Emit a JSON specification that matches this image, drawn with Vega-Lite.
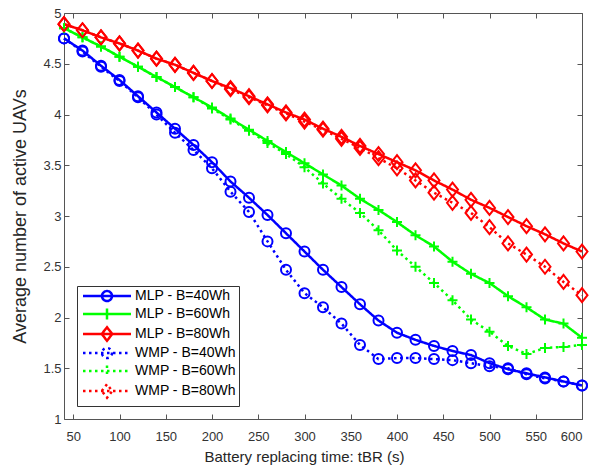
{
  "$schema": "https://vega.github.io/schema/vega-lite/v6.json",
  "width": 518,
  "height": 406,
  "autosize": {"type": "none"},
  "padding": {"left": 64, "top": 13, "right": 15, "bottom": 55},
  "background": "white",
  "config": {"view": {"stroke": null}, "font": "Liberation Sans"},
  "datasets": {
    "d": [
      {"t":40,"series":"MLP - B=40Wh","v":4.75},{"t":60,"series":"MLP - B=40Wh","v":4.63},{"t":80,"series":"MLP - B=40Wh","v":4.48},{"t":100,"series":"MLP - B=40Wh","v":4.34},{"t":120,"series":"MLP - B=40Wh","v":4.18},{"t":140,"series":"MLP - B=40Wh","v":4.02},{"t":160,"series":"MLP - B=40Wh","v":3.86},{"t":180,"series":"MLP - B=40Wh","v":3.70},{"t":200,"series":"MLP - B=40Wh","v":3.53},{"t":220,"series":"MLP - B=40Wh","v":3.34},{"t":240,"series":"MLP - B=40Wh","v":3.18},{"t":260,"series":"MLP - B=40Wh","v":3.01},{"t":280,"series":"MLP - B=40Wh","v":2.83},{"t":300,"series":"MLP - B=40Wh","v":2.65},{"t":320,"series":"MLP - B=40Wh","v":2.47},{"t":340,"series":"MLP - B=40Wh","v":2.30},{"t":360,"series":"MLP - B=40Wh","v":2.13},{"t":380,"series":"MLP - B=40Wh","v":1.97},{"t":400,"series":"MLP - B=40Wh","v":1.85},{"t":420,"series":"MLP - B=40Wh","v":1.78},{"t":440,"series":"MLP - B=40Wh","v":1.72},{"t":460,"series":"MLP - B=40Wh","v":1.67},{"t":480,"series":"MLP - B=40Wh","v":1.63},{"t":500,"series":"MLP - B=40Wh","v":1.55},{"t":520,"series":"MLP - B=40Wh","v":1.49},{"t":540,"series":"MLP - B=40Wh","v":1.45},{"t":560,"series":"MLP - B=40Wh","v":1.41},{"t":580,"series":"MLP - B=40Wh","v":1.37},{"t":600,"series":"MLP - B=40Wh","v":1.33},
      {"t":40,"series":"MLP - B=60Wh","v":4.85},{"t":60,"series":"MLP - B=60Wh","v":4.76},{"t":80,"series":"MLP - B=60Wh","v":4.67},{"t":100,"series":"MLP - B=60Wh","v":4.57},{"t":120,"series":"MLP - B=60Wh","v":4.47},{"t":140,"series":"MLP - B=60Wh","v":4.37},{"t":160,"series":"MLP - B=60Wh","v":4.27},{"t":180,"series":"MLP - B=60Wh","v":4.17},{"t":200,"series":"MLP - B=60Wh","v":4.07},{"t":220,"series":"MLP - B=60Wh","v":3.96},{"t":240,"series":"MLP - B=60Wh","v":3.85},{"t":260,"series":"MLP - B=60Wh","v":3.74},{"t":280,"series":"MLP - B=60Wh","v":3.63},{"t":300,"series":"MLP - B=60Wh","v":3.52},{"t":320,"series":"MLP - B=60Wh","v":3.41},{"t":340,"series":"MLP - B=60Wh","v":3.30},{"t":360,"series":"MLP - B=60Wh","v":3.17},{"t":380,"series":"MLP - B=60Wh","v":3.06},{"t":400,"series":"MLP - B=60Wh","v":2.94},{"t":420,"series":"MLP - B=60Wh","v":2.81},{"t":440,"series":"MLP - B=60Wh","v":2.70},{"t":460,"series":"MLP - B=60Wh","v":2.55},{"t":480,"series":"MLP - B=60Wh","v":2.43},{"t":500,"series":"MLP - B=60Wh","v":2.34},{"t":520,"series":"MLP - B=60Wh","v":2.21},{"t":540,"series":"MLP - B=60Wh","v":2.10},{"t":560,"series":"MLP - B=60Wh","v":1.98},{"t":580,"series":"MLP - B=60Wh","v":1.94},{"t":600,"series":"MLP - B=60Wh","v":1.80},
      {"t":40,"series":"MLP - B=80Wh","v":4.89},{"t":60,"series":"MLP - B=80Wh","v":4.83},{"t":80,"series":"MLP - B=80Wh","v":4.76},{"t":100,"series":"MLP - B=80Wh","v":4.70},{"t":120,"series":"MLP - B=80Wh","v":4.63},{"t":140,"series":"MLP - B=80Wh","v":4.55},{"t":160,"series":"MLP - B=80Wh","v":4.49},{"t":180,"series":"MLP - B=80Wh","v":4.41},{"t":200,"series":"MLP - B=80Wh","v":4.33},{"t":220,"series":"MLP - B=80Wh","v":4.26},{"t":240,"series":"MLP - B=80Wh","v":4.18},{"t":260,"series":"MLP - B=80Wh","v":4.10},{"t":280,"series":"MLP - B=80Wh","v":4.02},{"t":300,"series":"MLP - B=80Wh","v":3.95},{"t":320,"series":"MLP - B=80Wh","v":3.86},{"t":340,"series":"MLP - B=80Wh","v":3.78},{"t":360,"series":"MLP - B=80Wh","v":3.69},{"t":380,"series":"MLP - B=80Wh","v":3.61},{"t":400,"series":"MLP - B=80Wh","v":3.53},{"t":420,"series":"MLP - B=80Wh","v":3.45},{"t":440,"series":"MLP - B=80Wh","v":3.35},{"t":460,"series":"MLP - B=80Wh","v":3.26},{"t":480,"series":"MLP - B=80Wh","v":3.16},{"t":500,"series":"MLP - B=80Wh","v":3.08},{"t":520,"series":"MLP - B=80Wh","v":2.99},{"t":540,"series":"MLP - B=80Wh","v":2.90},{"t":560,"series":"MLP - B=80Wh","v":2.82},{"t":580,"series":"MLP - B=80Wh","v":2.73},{"t":600,"series":"MLP - B=80Wh","v":2.65},
      {"t":40,"series":"WMP - B=40Wh","v":4.75},{"t":60,"series":"WMP - B=40Wh","v":4.62},{"t":80,"series":"WMP - B=40Wh","v":4.47},{"t":100,"series":"WMP - B=40Wh","v":4.33},{"t":120,"series":"WMP - B=40Wh","v":4.17},{"t":140,"series":"WMP - B=40Wh","v":4.00},{"t":160,"series":"WMP - B=40Wh","v":3.82},{"t":180,"series":"WMP - B=40Wh","v":3.65},{"t":200,"series":"WMP - B=40Wh","v":3.47},{"t":220,"series":"WMP - B=40Wh","v":3.24},{"t":240,"series":"WMP - B=40Wh","v":3.04},{"t":260,"series":"WMP - B=40Wh","v":2.75},{"t":280,"series":"WMP - B=40Wh","v":2.47},{"t":300,"series":"WMP - B=40Wh","v":2.24},{"t":320,"series":"WMP - B=40Wh","v":2.10},{"t":340,"series":"WMP - B=40Wh","v":1.94},{"t":360,"series":"WMP - B=40Wh","v":1.73},{"t":380,"series":"WMP - B=40Wh","v":1.59},{"t":400,"series":"WMP - B=40Wh","v":1.60},{"t":420,"series":"WMP - B=40Wh","v":1.60},{"t":440,"series":"WMP - B=40Wh","v":1.59},{"t":460,"series":"WMP - B=40Wh","v":1.58},{"t":480,"series":"WMP - B=40Wh","v":1.55},{"t":500,"series":"WMP - B=40Wh","v":1.52},{"t":520,"series":"WMP - B=40Wh","v":1.50},{"t":540,"series":"WMP - B=40Wh","v":1.44},{"t":560,"series":"WMP - B=40Wh","v":1.40},{"t":580,"series":"WMP - B=40Wh","v":1.37},{"t":600,"series":"WMP - B=40Wh","v":1.33},
      {"t":40,"series":"WMP - B=60Wh","v":4.85},{"t":60,"series":"WMP - B=60Wh","v":4.76},{"t":80,"series":"WMP - B=60Wh","v":4.67},{"t":100,"series":"WMP - B=60Wh","v":4.57},{"t":120,"series":"WMP - B=60Wh","v":4.47},{"t":140,"series":"WMP - B=60Wh","v":4.37},{"t":160,"series":"WMP - B=60Wh","v":4.27},{"t":180,"series":"WMP - B=60Wh","v":4.17},{"t":200,"series":"WMP - B=60Wh","v":4.06},{"t":220,"series":"WMP - B=60Wh","v":3.95},{"t":240,"series":"WMP - B=60Wh","v":3.84},{"t":260,"series":"WMP - B=60Wh","v":3.72},{"t":280,"series":"WMP - B=60Wh","v":3.61},{"t":300,"series":"WMP - B=60Wh","v":3.48},{"t":320,"series":"WMP - B=60Wh","v":3.32},{"t":340,"series":"WMP - B=60Wh","v":3.17},{"t":360,"series":"WMP - B=60Wh","v":3.03},{"t":380,"series":"WMP - B=60Wh","v":2.86},{"t":400,"series":"WMP - B=60Wh","v":2.66},{"t":420,"series":"WMP - B=60Wh","v":2.50},{"t":440,"series":"WMP - B=60Wh","v":2.34},{"t":460,"series":"WMP - B=60Wh","v":2.17},{"t":480,"series":"WMP - B=60Wh","v":1.98},{"t":500,"series":"WMP - B=60Wh","v":1.86},{"t":520,"series":"WMP - B=60Wh","v":1.72},{"t":540,"series":"WMP - B=60Wh","v":1.64},{"t":560,"series":"WMP - B=60Wh","v":1.70},{"t":580,"series":"WMP - B=60Wh","v":1.71},{"t":600,"series":"WMP - B=60Wh","v":1.73},
      {"t":40,"series":"WMP - B=80Wh","v":4.89},{"t":60,"series":"WMP - B=80Wh","v":4.83},{"t":80,"series":"WMP - B=80Wh","v":4.76},{"t":100,"series":"WMP - B=80Wh","v":4.70},{"t":120,"series":"WMP - B=80Wh","v":4.63},{"t":140,"series":"WMP - B=80Wh","v":4.55},{"t":160,"series":"WMP - B=80Wh","v":4.49},{"t":180,"series":"WMP - B=80Wh","v":4.41},{"t":200,"series":"WMP - B=80Wh","v":4.33},{"t":220,"series":"WMP - B=80Wh","v":4.25},{"t":240,"series":"WMP - B=80Wh","v":4.17},{"t":260,"series":"WMP - B=80Wh","v":4.09},{"t":280,"series":"WMP - B=80Wh","v":4.01},{"t":300,"series":"WMP - B=80Wh","v":3.93},{"t":320,"series":"WMP - B=80Wh","v":3.85},{"t":340,"series":"WMP - B=80Wh","v":3.76},{"t":360,"series":"WMP - B=80Wh","v":3.67},{"t":380,"series":"WMP - B=80Wh","v":3.57},{"t":400,"series":"WMP - B=80Wh","v":3.47},{"t":420,"series":"WMP - B=80Wh","v":3.35},{"t":440,"series":"WMP - B=80Wh","v":3.23},{"t":460,"series":"WMP - B=80Wh","v":3.13},{"t":480,"series":"WMP - B=80Wh","v":3.03},{"t":500,"series":"WMP - B=80Wh","v":2.89},{"t":520,"series":"WMP - B=80Wh","v":2.73},{"t":540,"series":"WMP - B=80Wh","v":2.62},{"t":560,"series":"WMP - B=80Wh","v":2.50},{"t":580,"series":"WMP - B=80Wh","v":2.35},{"t":600,"series":"WMP - B=80Wh","v":2.22}
    ]
  },
  "data": {"name": "d"},
  "layer": [
    {
      "mark": {"type": "line", "strokeWidth": 2.5},
      "encoding": {
        "x": {"field": "t", "type": "quantitative",
          "scale": {"domain": [40, 600], "nice": false, "zero": false},
          "axis": {"orient": "bottom", "values": [50,100,150,200,250,300,350,400,450,500,550,600],
            "title": "Battery replacing time: tBR (s)", "grid": false,
            "domainColor": "#555555", "tickColor": "#555555", "tickSize": -5,
            "labelFontSize": 13, "labelColor": "#333333", "labelPadding": 16,
            "titleFontSize": 15, "titleFontWeight": "normal", "titleColor": "#262626", "titlePadding": 6, "titleX": 240}},
        "y": {"field": "v", "type": "quantitative",
          "scale": {"domain": [1, 5], "nice": false, "zero": false},
          "axis": {"orient": "left", "values": [1,1.5,2,2.5,3,3.5,4,4.5,5], "format": "~f",
            "title": "Average number of active UAVs", "grid": false,
            "domainColor": "#555555", "tickColor": "#555555", "tickSize": -5,
            "labelFontSize": 13, "labelColor": "#333333", "labelPadding": 8,
            "titleFontSize": 18, "titleFontWeight": "normal", "titleColor": "#262626",
            "titleX": -43.5, "titleY": 203, "titleBaseline": "middle", "titleAngle": -90, "titleAlign": "center"}},
        "color": {"field": "series", "type": "nominal",
          "scale": {"domain": ["MLP - B=40Wh","MLP - B=60Wh","MLP - B=80Wh","WMP - B=40Wh","WMP - B=60Wh","WMP - B=80Wh"],
                    "range": ["#0000ff","#00ff00","#ff0000","#0000ff","#00ff00","#ff0000"]},
          "legend": {"orient": "bottom-left", "offset": 13, "title": null, "padding": 3, "rowPadding": -3,
            "labelFontSize": 14, "labelColor": "#000000", "labelOffset": 21, "symbolOffset": 20,
            "symbolSize": 100, "symbolStrokeWidth": 2.5, "symbolFillColor": "transparent",
            "fillColor": "white", "strokeColor": "#333333", "cornerRadius": 0,
            "encoding": {"symbols": {"shape": {"value": {"expr": "indexof(datum.value, '40Wh') >= 0 ? 'M-4.8,0H4.8M1,0A1,1,0,1,1,-1,0A1,1,0,1,1,1,0' : indexof(datum.value, '60Wh') >= 0 ? 'M-4.8,0H4.8M0,-1.1V1.1' : 'M-4.8,0H4.8M-1.05,0L0,-1.35L1.05,0L0,1.35Z'"}}}}}},
        "strokeDash": {"field": "series", "type": "nominal",
          "scale": {"domain": ["MLP - B=40Wh","MLP - B=60Wh","MLP - B=80Wh","WMP - B=40Wh","WMP - B=60Wh","WMP - B=80Wh"],
                    "range": [[1,0],[1,0],[1,0],[2.5,3.5],[2.5,3.5],[2.5,3.5]]}}
      }
    },
    {
      "mark": {"type": "point", "filled": false, "strokeWidth": 2, "size": 100, "opacity": 1},
      "encoding": {
        "x": {"field": "t", "type": "quantitative",
          "axis": {"orient": "top", "values": [50,100,150,200,250,300,350,400,450,500,550,600],
            "labels": false, "title": null, "grid": false,
            "domainColor": "#555555", "tickColor": "#555555", "tickSize": -5}},
        "y": {"field": "v", "type": "quantitative",
          "axis": {"orient": "right", "values": [1,1.5,2,2.5,3,3.5,4,4.5,5],
            "labels": false, "title": null, "grid": false,
            "domainColor": "#555555", "tickColor": "#555555", "tickSize": -5}},
        "color": {"field": "series", "type": "nominal"},
        "shape": {"condition": [
            {"test": "indexof(datum.series, '40Wh') >= 0", "value": "circle"},
            {"test": "indexof(datum.series, '60Wh') >= 0", "value": "M-1,0H1M0,-1V1"}],
          "value": "M-1.1,0L0,-1.4L1.1,0L0,1.4Z"}
      }
    }
  ],
  "resolve": {"axis": {"x": "independent", "y": "independent"}}
}
